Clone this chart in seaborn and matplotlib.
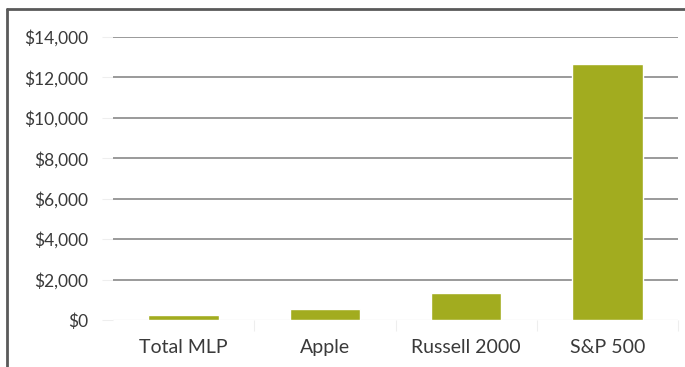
import matplotlib
matplotlib.use("Agg")
import matplotlib.pyplot as plt
import seaborn as sns
import pandas as pd
from matplotlib.lines import Line2D
from matplotlib.ticker import FixedLocator

categories = ["Total MLP", "Apple", "Russell 2000", "S&P 500"]
values = [250, 540, 1350, 12650]
yticks = [0, 2000, 4000, 6000, 8000, 10000, 12000, 14000]
ytick_labels = ["$0", "$2,000", "$4,000", "$6,000", "$8,000", "$10,000", "$12,000", "$14,000"]

sns.set_theme(style="white")
plt.rcParams["font.family"] = ["Lato", "DejaVu Sans"]

df = pd.DataFrame({"cat": categories, "val": values})

fig = plt.figure(figsize=(6.85, 3.67), dpi=100)
ax = fig.add_axes([113 / 685, 1 - 320 / 367, (678 - 113) / 685, (320 - 37) / 367])

sns.barplot(data=df, x="cat", y="val", color="#a2ac1f", saturation=1, width=0.5, ax=ax, zorder=3)

ax.set_ylim(0, 14000)
ax.set_xlim(-0.5, 3.5)
ax.set_yticks(yticks)
ax.set_yticklabels(ytick_labels)
for y in yticks[1:]:
    ax.axhline(y, color="#9a9a9a", lw=1.4, zorder=1)
ax.axhline(0, color="#ececec", lw=1.0, zorder=2)

for s in ax.spines.values():
    s.set_visible(False)

ax.set_xlabel("")
ax.set_ylabel("")
ax.tick_params(axis="y", length=8, width=0.8, color="#eeeeee", pad=10, labelsize=12.5, labelcolor="#3a3a3a", left=True)
ax.xaxis.set_minor_locator(FixedLocator([0.5, 1.5, 2.5, 3.5]))
ax.tick_params(axis="x", which="major", length=0, pad=14, labelsize=14, labelcolor="#3a3a3a")
ax.tick_params(axis="x", which="minor", length=8, width=0.8, color="#eeeeee", bottom=True)

# outer frame (left and top)
fig.add_artist(Line2D([6.5 / 685, 6.5 / 685], [0, 1 - 9 / 367], color="#5a5a5a", lw=2, transform=fig.transFigure))
fig.add_artist(Line2D([6.5 / 685, 1], [1 - 9 / 367, 1 - 9 / 367], color="#5a5a5a", lw=2, transform=fig.transFigure))

fig.savefig("out.png", dpi=100)
